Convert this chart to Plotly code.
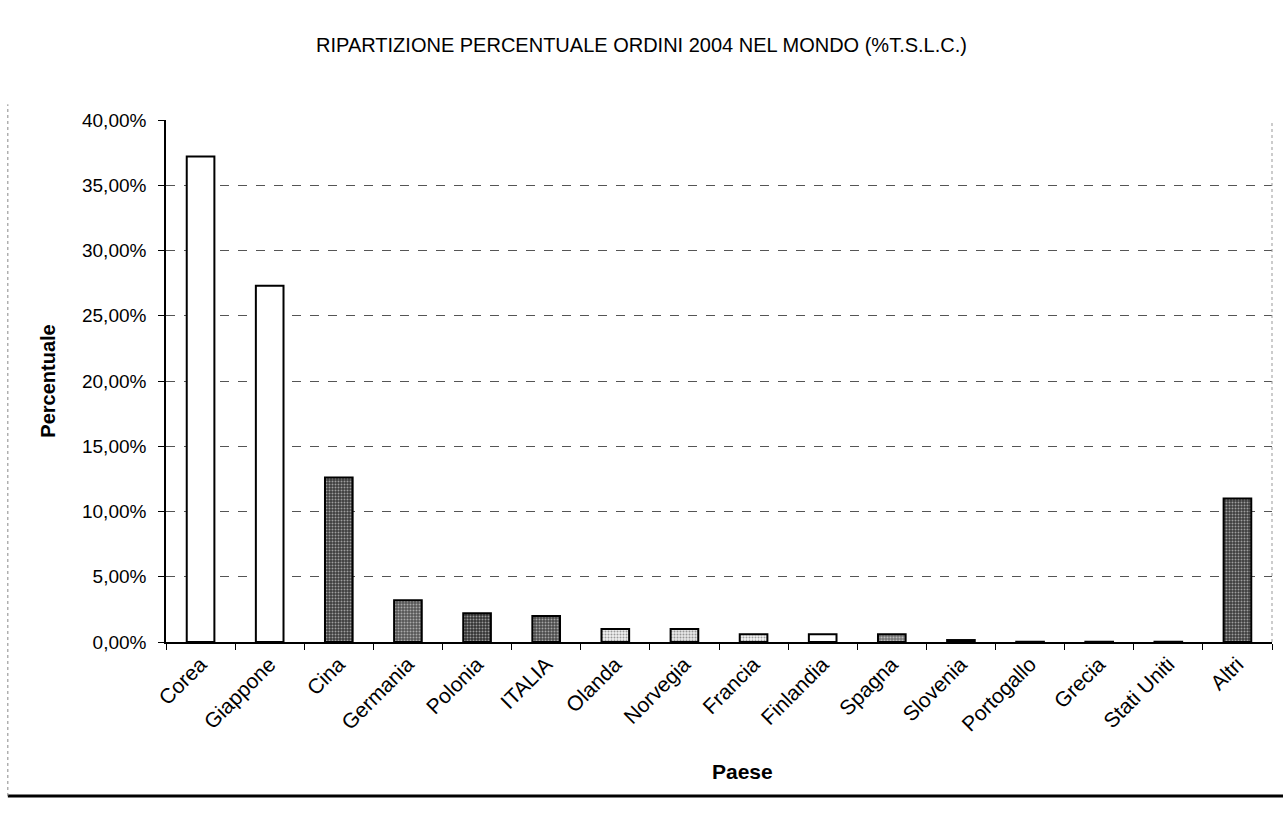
import plotly.graph_objects as go

# Paesi e quote percentuali degli ordini 2004 (T.S.L.C.)
paesi = ["Corea", "Giappone", "Cina", "Germania", "Polonia", "ITALIA", "Olanda",
         "Norvegia", "Francia", "Finlandia", "Spagna", "Slovenia", "Portogallo",
         "Grecia", "Stati Uniti", "Altri"]
quote = [0.372, 0.273, 0.126, 0.032, 0.022, 0.020, 0.010,
         0.010, 0.006, 0.006, 0.006, 0.0015, 0.0002,
         0.0002, 0.0002, 0.110]

# riempimento di ciascuna barra: colore di fondo, trama e colore dei punti
sfondi = ["white", "white", "#3c3c3c", "#555555", "#333333", "#4a4a4a", "#f0f0f0",
          "#e8e8e8", "#f6f6f6", "white", "#777777", "black", "white",
          "white", "white", "#3c3c3c"]
trame = ["", "", ".", ".", ".", ".", ".", ".", ".", "", ".", "", "", "", "", "."]
punti = ["black", "black", "#e6e6e6", "#e6e6e6", "#e6e6e6", "#e6e6e6", "#555555",
         "#555555", "#888888", "black", "#e6e6e6", "black", "black",
         "black", "black", "#e6e6e6"]

fig = go.Figure(go.Bar(
    x=paesi,
    y=quote,
    marker=dict(
        color=sfondi,
        line=dict(color="black", width=2),
        pattern=dict(shape=trame, fgcolor=punti, size=3, solidity=0.35),
    ),
    width=0.4,
))

font = "Liberation Sans, Arial, sans-serif"

fig.update_layout(
    width=1283, height=817,
    paper_bgcolor="white", plot_bgcolor="white",
    margin=dict(l=166, r=11, t=120, b=175),
    showlegend=False,
    title=dict(text="RIPARTIZIONE PERCENTUALE ORDINI 2004 NEL MONDO (%T.S.L.C.)",
               x=0.5, xanchor="center", y=0.945, yanchor="middle",
               font=dict(family=font, size=20, color="black")),
    font=dict(family=font, color="black"),
    separators=",.",
    shapes=[
        dict(type="line", xref="paper", yref="paper", x0=-0.143, x1=1.01,
             y0=-0.295, y1=-0.295, line=dict(color="black", width=3)),
        dict(type="line", xref="paper", yref="paper", x0=-0.143, x1=-0.143,
             y0=-0.295, y1=1.03, line=dict(color="#888", width=1, dash="dot")),
        dict(type="line", xref="paper", yref="paper", x0=1, x1=1,
             y0=0, y1=1.0, line=dict(color="#999", width=1, dash="dot")),
    ],
    annotations=[
        dict(text="<b>Paese</b>", xref="paper", yref="paper", x=0.521, y=-0.249,
             xanchor="center", yanchor="middle", showarrow=False,
             font=dict(family=font, size=21, color="black")),
    ],
)

fig.update_yaxes(
    range=[0, 0.4], dtick=0.05, tickformat=".2%",
    showgrid=True, gridcolor="#555", gridwidth=1, griddash="dash",
    showline=True, linecolor="black", linewidth=1.5,
    ticks="outside", ticklen=6, tickcolor="black", ticklabelstandoff=8,
    tickfont=dict(size=19),
    title=dict(text="<b>Percentuale</b>", font=dict(size=20), standoff=21),
    zeroline=False,
)
fig.update_xaxes(
    tickangle=-45, tickfont=dict(size=21),
    showline=True, linecolor="black", linewidth=1.5,
    ticks="outside", ticklen=6, tickcolor="black", tickson="boundaries",
    range=[-0.5, 15.5],
)

fig.write_html("out.html")
